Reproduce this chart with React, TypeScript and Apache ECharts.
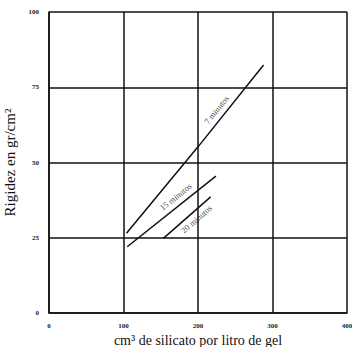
import React, { useEffect, useRef } from "react";
import * as echarts from "echarts";

const xTicks = [0, 100, 200, 300, 400];
const yTicks = [0, 25, 50, 75, 100];
const line7 = [[104, 26.5], [200, 55.2], [288, 82.4]];
const line15 = [[105, 22.0], [224, 45.5]];
const line20 = [[153.5, 24.8], [217, 38.6]];
const curveNames = ["7 minutos", "15 minutos", "20 minutos"];
const labelAnchors = [[225, 67.5], [170, 38.6], [198, 31.2]];
const labelAngles = [51, 38.6, 40.9];

export default function App() {
  const ref = useRef<HTMLDivElement>(null);
  useEffect(() => {
    if (!ref.current) return;
    const chart = echarts.init(ref.current, null, { renderer: "svg" });
    const lineStyle = { color: "#111", width: 1.5 };
    chart.setOption({
      animation: false,
      backgroundColor: "#fff",
      grid: { left: 49, right: 5, top: 12, bottom: 34, outerBoundsMode: "none", containLabel: false },
      xAxis: {
        type: "value",
        min: 0,
        max: 400,
        interval: 100,
        name: "cm³ de silicato por litro de gel",
        nameLocation: "middle",
        nameGap: 16,
        nameTextStyle: { fontFamily: "Liberation Serif", fontSize: 14, color: "#111", verticalAlign: "top" },
        axisLine: { show: true, lineStyle: { color: "#111", width: 1.5 } },
        axisTick: { show: false },
        axisLabel: {
          formatter: (v: number) => (xTicks.includes(v) ? String(v) : ""),
          fontFamily: "Liberation Serif",
          fontSize: 7,
          fontWeight: "bold",
          color: "#222",
          margin: 9,
        },
        splitLine: { show: true, lineStyle: { color: "#111", width: 1.5 } },
      },
      yAxis: {
        type: "value",
        min: 0,
        max: 100,
        interval: 25,
        name: "Rigidez en gr/cm²",
        nameLocation: "middle",
        nameGap: 31,
        nameTextStyle: { fontFamily: "Liberation Serif", fontSize: 15, color: "#111" },
        axisLine: { show: true, lineStyle: { color: "#111", width: 1.5 } },
        axisTick: { show: false },
        axisLabel: {
          formatter: (v: number) => (yTicks.includes(v) ? String(v) : ""),
          fontFamily: "Liberation Serif",
          fontSize: 7,
          fontWeight: "bold",
          color: "#222",
          margin: 10,
        },
        splitLine: { show: true, lineStyle: { color: "#111", width: 1.5 } },
      },
      series: [
        { type: "line", data: line7, symbol: "none", lineStyle, name: curveNames[0] },
        { type: "line", data: line15, symbol: "none", lineStyle, name: curveNames[1] },
        { type: "line", data: line20, symbol: "none", lineStyle, name: curveNames[2] },
        ...labelAnchors.map((p, i) => ({
          type: "scatter",
          symbolSize: 0,
          data: [{ value: p, name: curveNames[i] }],
          label: {
            show: true,
            position: "inside",
            formatter: "{b}",
            rotate: labelAngles[i],
            fontFamily: "Liberation Serif",
            fontSize: 8.5,
            color: "#111",
          },
        })),
      ],
    });
    return () => chart.dispose();
  }, []);
  return (
    <div
      ref={ref}
      style={{ position: "fixed", left: 0, top: 0, width: 352, height: 347 }}
    />
  );
}
